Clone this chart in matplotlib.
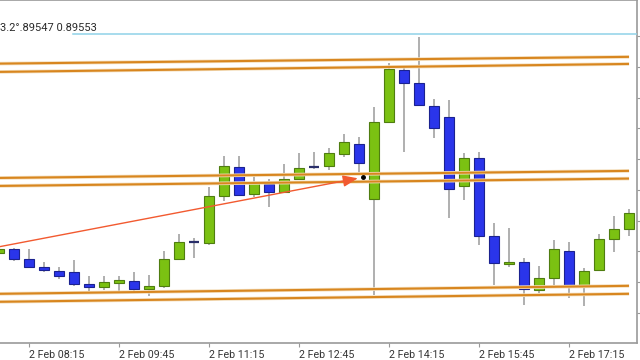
import pandas as pd
import matplotlib
matplotlib.use('Agg')
import matplotlib.pyplot as plt

plt.rcParams['font.family'] = ['Roboto', 'DejaVu Sans']

# 15 minute candles, 2 Feb 07:45 .. 18:15
times = pd.date_range('2024-02-02 07:45', periods=43, freq='15min')
opens = [0.894795, 0.894808, 0.894776, 0.894750, 0.894737, 0.894733, 0.894694, 0.894685,
         0.894698, 0.894704, 0.894678, 0.894688, 0.894776, 0.894831, 0.894828, 0.894980,
         0.895075, 0.894987, 0.895020, 0.894994, 0.895036, 0.895075, 0.895078, 0.895117,
         0.895150, 0.894971, 0.895221, 0.895390, 0.895348, 0.895273, 0.895237, 0.895013,
         0.895104, 0.894850, 0.894759, 0.894766, 0.894675, 0.894714, 0.894802, 0.894688,
         0.894740, 0.894841, 0.894873]
highs = [0.894815, 0.894811, 0.894808, 0.894766, 0.894750, 0.894772, 0.894720, 0.894720,
         0.894720, 0.894733, 0.894724, 0.894802, 0.894857, 0.894844, 0.895010, 0.895111,
         0.895111, 0.895052, 0.895036, 0.895085, 0.895120, 0.895124, 0.895137, 0.895182,
         0.895172, 0.895270, 0.895413, 0.895403, 0.895498, 0.895296, 0.895293, 0.895120,
         0.895124, 0.894893, 0.894876, 0.894779, 0.894753, 0.894837, 0.894831, 0.894746,
         0.894857, 0.894915, 0.894938]
lows = [0.894789, 0.894769, 0.894750, 0.894733, 0.894711, 0.894688, 0.894668, 0.894675,
        0.894672, 0.894668, 0.894655, 0.894681, 0.894772, 0.894779, 0.894821, 0.894964,
        0.894984, 0.894977, 0.894945, 0.894994, 0.895036, 0.895068, 0.895065, 0.895107,
        0.895049, 0.894659, 0.895221, 0.895124, 0.895273, 0.895169, 0.894909, 0.894967,
        0.894821, 0.894691, 0.894750, 0.894626, 0.894665, 0.894691, 0.894649, 0.894623,
        0.894740, 0.894798, 0.894850]
closes = [0.894808, 0.894776, 0.894750, 0.894740, 0.894720, 0.894694, 0.894685, 0.894701,
          0.894707, 0.894678, 0.894688, 0.894776, 0.894831, 0.894831, 0.894980, 0.895078,
          0.894984, 0.895023, 0.894994, 0.895036, 0.895072, 0.895075, 0.895120, 0.895156,
          0.895088, 0.895221, 0.895394, 0.895348, 0.895276, 0.895202, 0.895003, 0.895104,
          0.894850, 0.894763, 0.894766, 0.894678, 0.894714, 0.894808, 0.894688, 0.894737,
          0.894841, 0.894873, 0.894925]

# drawn trend lines: (start price, end price) from first to last candle
trend_lines = [(0.895411, 0.895433), (0.895384, 0.895410),
               (0.895039, 0.895062), (0.895013, 0.895037),
               (0.894662, 0.894688), (0.894636, 0.894662)]
arrow_start = 0.894815
arrow_end = 0.895042
arrow_end_idx = 24.27
cyan_level = 0.895507
top_text = '3.2°.89547 0.89553'
price_ticks = [0.8946, 0.8947, 0.8948, 0.8949, 0.8950, 0.8951, 0.8952, 0.8953, 0.8954, 0.8955]

green = '#7bc112'
blue = '#2a35ea'

fig = plt.figure(figsize=(6.4, 3.6), dpi=100)
ax = fig.add_axes([0, 17/360, 637/640, 343/360])

n = len(times)
for i in range(n):
    o, h, l, c = opens[i], highs[i], lows[i], closes[i]
    ax.vlines(i, l, h, color='#9a9a9a', lw=1.1, zorder=2)
    if c == o:
        ax.hlines(c, i - 0.32, i + 0.32, color='#2a2f6a', lw=1.6, zorder=3)
    elif c > o:
        ax.bar(i, c - o, bottom=o, width=0.64, color=green, edgecolor='#4f7d10', lw=0.8, zorder=3)
    else:
        ax.bar(i, o - c, bottom=c, width=0.64, color=blue, edgecolor='#1b2290', lw=0.8, zorder=3)

# trend lines
for p0, p1 in trend_lines:
    ax.plot([0, n - 1], [p0, p1], color='#f4dfbd', lw=2.6, zorder=4, solid_capstyle='butt')
    ax.plot([0, n - 1], [p0, p1], color='#d8861f', lw=1.5, zorder=5, solid_capstyle='butt')

# arrow
ax.annotate('', xy=(arrow_end_idx - 0.35, arrow_end - 0.000004), xytext=(0, arrow_start),
            arrowprops=dict(arrowstyle='-|>,head_length=0.9,head_width=0.35', color='#f25a30',
                            lw=1.0, shrinkA=0, shrinkB=0), zorder=6)
ax.plot([arrow_end_idx], [arrow_end], 'o', color='black', ms=2.5, zorder=7)

# cyan level + text
ax.plot([4.95, n], [cyan_level, cyan_level], color='#8fd2e8', lw=1.1, zorder=4)
ax.text(0.0, 0.917, top_text, transform=ax.transAxes, fontsize=8, color='#2a2a2a',
        va='center', ha='left')

ax.set_xlim(0.067, 42.53)
ax.set_ylim(0.894502, 0.895618)

tick_idx = list(range(2, n, 6))
ax.set_xticks(tick_idx)
ax.set_xticklabels([f'{t.day} {t:%b %H:%M}' for t in times[tick_idx]], ha='left',
                   fontsize=7.7, color='#333333')
ax.tick_params(axis='x', length=3, color='#999999', pad=2)

ax.yaxis.tick_right()
ax.set_yticks(price_ticks)
ax.tick_params(axis='y', length=4, color='#999999', labelright=False, labelleft=False)

ax.spines['left'].set_visible(False)
for s in ['right', 'bottom', 'top']:
    ax.spines[s].set_color('#9a9a9a')
    ax.spines[s].set_linewidth(1.2)

fig.savefig('out.png', dpi=100)
